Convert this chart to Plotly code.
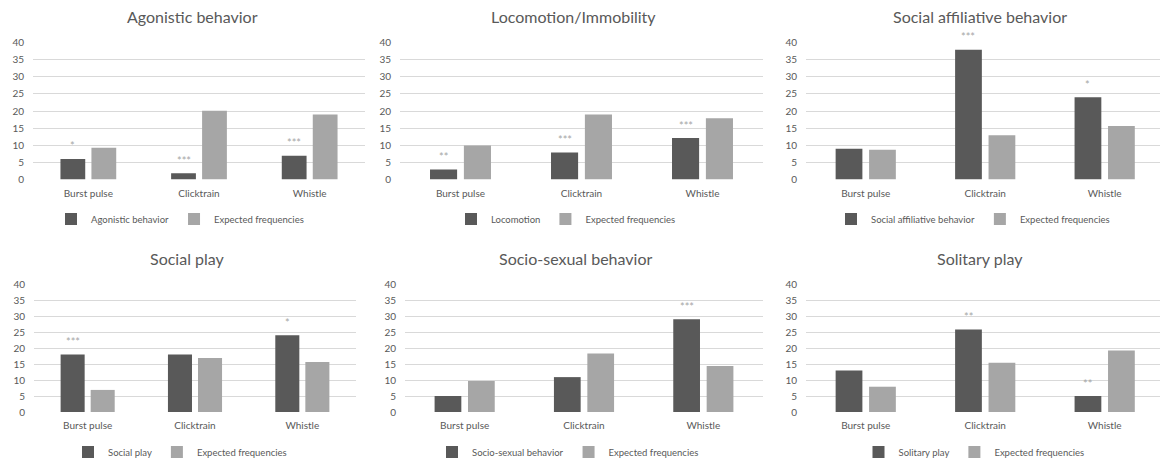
import plotly.graph_objects as go

# ---------------- data ----------------
categories = ["Burst pulse", "Clicktrain", "Whistle"]

titles = ["Agonistic behavior", "Locomotion/Immobility", "Social affiliative behavior",
          "Social play", "Socio-sexual behavior", "Solitary play"]
observed_names = ["Agonistic behavior", "Locomotion", "Social affiliative behavior",
                  "Social play", "Socio-sexual behavior", "Solitary play"]
expected_name = "Expected frequencies"

agonistic_obs = [6.0, 1.8, 6.9]
agonistic_exp = [9.3, 20.1, 19.0]
locomotion_obs = [2.9, 7.9, 12.1]
locomotion_exp = [9.9, 19.0, 17.9]
affiliative_obs = [9.0, 37.9, 24.0]
affiliative_exp = [8.7, 12.9, 15.6]
social_play_obs = [18.0, 18.0, 24.0]
social_play_exp = [6.9, 16.9, 15.6]
sociosexual_obs = [5.0, 10.9, 29.0]
sociosexual_exp = [9.7, 18.3, 14.4]
solitary_obs = [13.0, 25.8, 5.0]
solitary_exp = [7.9, 15.4, 19.2]

agonistic_sig = ["*", "***", "***"]
locomotion_sig = ["**", "***", "***"]
affiliative_sig = ["", "***", "*"]
social_play_sig = ["***", "", "*"]
sociosexual_sig = ["", "", "***"]
solitary_sig = ["", "**", "**"]

observed = [agonistic_obs, locomotion_obs, affiliative_obs,
            social_play_obs, sociosexual_obs, solitary_obs]
expected = [agonistic_exp, locomotion_exp, affiliative_exp,
            social_play_exp, sociosexual_exp, solitary_exp]
significance = [agonistic_sig, locomotion_sig, affiliative_sig,
                social_play_sig, sociosexual_sig, solitary_sig]

# ---------------- style / layout ----------------
PAGE_W, PAGE_H = 1168, 461
BODY = 8                      # default page body margin in the browser
W, H = PAGE_W - BODY, PAGE_H - BODY
DARK = "#595959"
LIGHT = "#a6a6a6"
GRID = "#d9d9d9"
TEXT = "#595959"
FONT = "Lato"
BARGAP = 0.44
BARGROUPGAP = 0.2


def fx(px):
    return (px - BODY) / W


def fy(py):
    return 1 - (py - BODY) / H


# page-pixel boxes of plot areas: (left, right, top, bottom)
boxes = [(33, 365, 42.5, 179.5), (400, 763, 42.5, 179.5), (806, 1168, 42.5, 179.5),
         (34, 356, 284, 412), (405, 763, 284, 412), (806, 1168, 284, 412)]
xranges = [[-0.5, 2.5], [-0.5, 2.5], [-0.5, 2.53],
           [-0.5, 2.5], [-0.5, 2.5], [-0.5, 2.53]]
title_pos = [(192, 17), (573, 17), (980, 17), (187, 258), (575, 258), (980, 258)]
legend_pos = [(180, 219), (566, 219), (973, 219), (180, 452), (568, 452), (974, 452)]

fig = go.Figure()
layout = dict(width=W, height=H,
              margin=dict(l=0, r=0, t=0, b=0, pad=0, autoexpand=False),
              paper_bgcolor="white", plot_bgcolor="white",
              barmode="group", bargap=BARGAP, bargroupgap=BARGROUPGAP,
              font=dict(family=FONT, color=TEXT), annotations=[])

obs_offset = -(1 - BARGAP) / 4

for k in range(6):
    sfx = "" if k == 0 else str(k + 1)
    xa, ya, leg = "x" + sfx, "y" + sfx, "legend" + sfx
    fig.add_trace(go.Bar(x=categories, y=observed[k], name=observed_names[k],
                         marker=dict(color=DARK, line=dict(width=0)),
                         xaxis=xa, yaxis=ya, legend=leg))
    fig.add_trace(go.Bar(x=categories, y=expected[k], name=expected_name,
                         marker=dict(color=LIGHT, line=dict(width=0)),
                         xaxis=xa, yaxis=ya, legend=leg))
    l, r, t, b = boxes[k]
    layout["xaxis" + sfx] = dict(domain=[fx(l), min(fx(r), 1)], anchor=ya, type="category",
                                 range=xranges[k], showgrid=False, showline=False,
                                 zeroline=False, ticks="", ticklabelstandoff=6,
                                 automargin=False,
                                 tickfont=dict(size=10, color=TEXT, family=FONT))
    layout["yaxis" + sfx] = dict(domain=[fy(b), fy(t)], anchor=xa,
                                 range=[0, 40], dtick=5, tick0=0, showgrid=True,
                                 gridcolor=GRID, gridwidth=1, zeroline=False,
                                 showline=False, ticks="", ticklabelstandoff=8,
                                 automargin=False,
                                 tickfont=dict(size=10, color=TEXT, family=FONT))
    lx, ly = legend_pos[k]
    layout["legend" + sfx] = dict(orientation="h", x=fx(lx), xanchor="center",
                                  y=fy(ly), yanchor="middle",
                                  font=dict(size=9.5, color=TEXT, family=FONT),
                                  bgcolor="rgba(0,0,0,0)", traceorder="normal")
    tx, ty = title_pos[k]
    layout["annotations"].append(dict(text=titles[k], xref="paper", yref="paper",
                                      x=fx(tx), y=fy(ty), xanchor="center",
                                      yanchor="middle", showarrow=False,
                                      font=dict(size=16, color=TEXT, family=FONT)))
    for i, s in enumerate(significance[k]):
        if s:
            layout["annotations"].append(dict(text=s, xref=xa, yref=ya,
                                              x=i + obs_offset, y=observed[k][i],
                                              xanchor="center", yanchor="middle",
                                              yshift=13, showarrow=False,
                                              font=dict(size=11, color=LIGHT, family=FONT)))

fig.update_layout(**layout)
fig.write_html("out.html")
